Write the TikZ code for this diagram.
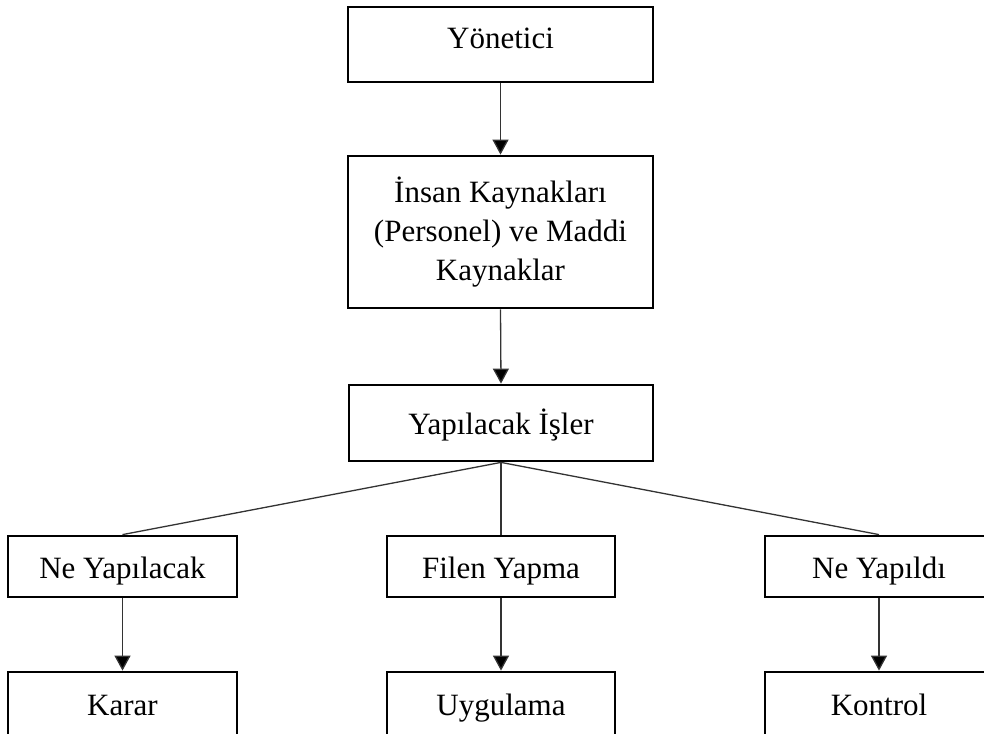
\documentclass[tikz,border=0pt]{standalone}
\usepackage{fontspec}
\setmainfont{Liberation Serif}
\usetikzlibrary{arrows.meta}
\begin{document}
\begin{tikzpicture}[x=1pt,y=-1pt,
  box/.style={draw=black, line width=2.8pt, fill=white, inner sep=0pt,
    font=\fontsize{31}{39}\selectfont, text height=28pt, text depth=5pt},
  conn/.style={line width=1.3pt, draw=black!80},
  arr/.style={conn, -{Triangle[length=15pt,width=16pt,fill=black]}}]
\useasboundingbox (0,0) rectangle (984,733);
\fill[white] (0,0) rectangle (984,733);
\clip (0,0) rectangle (984,733);
\node[box, minimum width=305pt, minimum height=75pt, text height=22pt, text depth=14pt] (yon) at (500.5,44.5) {Yönetici};
\node[box, minimum width=305pt, minimum height=152pt, align=center, text height=, text depth=] (ik) at (500.5,232) {İnsan Kaynakları\\(Personel) ve Maddi\\Kaynaklar};
\node[box, minimum width=304pt, minimum height=76pt] (yi) at (501,423) {Yapılacak İşler};
\node[box, minimum width=229pt, minimum height=61pt] (ney) at (122.5,566.5) {Ne Yapılacak};
\node[box, minimum width=228pt, minimum height=61pt] (fy) at (501,566.5) {Filen Yapma};
\node[box, minimum width=228pt, minimum height=61pt] (ned) at (879,566.5) {Ne Yapıldı};
\node[box, minimum width=229pt, minimum height=64pt] (kar) at (122.5,704) {Karar};
\node[box, minimum width=228pt, minimum height=64pt] (uyg) at (501,704) {Uygulama};
\node[box, minimum width=228pt, minimum height=64pt] (kon) at (879,704) {Kontrol};
\draw[arr] (yon.south) -- (ik.north);
\draw[arr] (ik.south) -- (yi.north);
\draw[conn] (yi.south) -- (ney.north);
\draw[conn] (yi.south) -- (fy.north);
\draw[conn] (yi.south) -- (ned.north);
\draw[arr] (ney.south) -- (kar.north);
\draw[arr] (fy.south) -- (uyg.north);
\draw[arr] (ned.south) -- (kon.north);
\end{tikzpicture}
\end{document}
